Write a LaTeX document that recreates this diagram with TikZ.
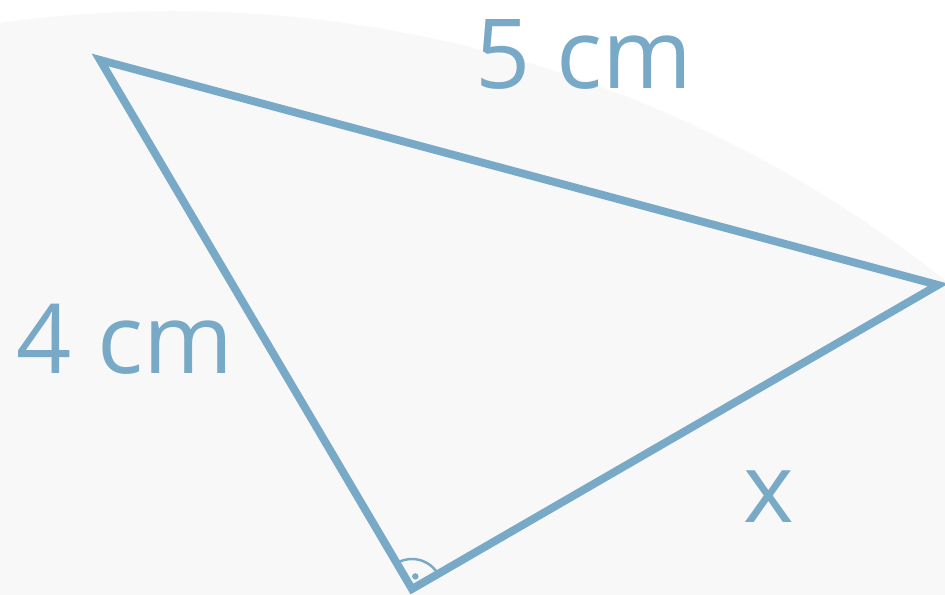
\documentclass[tikz,border=0pt]{standalone}
\usepackage{fontspec}
\setmainfont{Open Sans}
\usetikzlibrary{positioning}
\definecolor{sideblue}{HTML}{78A9C6}
\definecolor{paper}{HTML}{F8F8F8}

\begin{document}
\begin{tikzpicture}[
		side/.style={draw=sideblue, line width=4.5pt, miter limit=20},
		len/.style={text=sideblue, inner sep=0pt, font=\fontsize{55}{60}\selectfont}
	]

		\useasboundingbox (0,0) rectangle (18.9,11.9);
		\begin{scope}
			\clip (0,0) rectangle (18.9,11.9);
			\fill[paper] (3.44,-13.20) circle (24.88);
		\end{scope}

		\coordinate (a) at (2.00,10.70);
		\coordinate (b) at (18.76,6.20);
		\coordinate (c) at (8.24,0.12);

		\draw[side] (a) -- (b) -- (c) -- cycle;

		% right angle at c
		\draw[sideblue, line width=1.4pt] ([shift={(30.1:0.6)}]c) arc[start angle=30.1, end angle=120.5, radius=0.6];
		\fill[sideblue] ([shift={(75.3:0.26)}]c) circle (0.065);

		\node[len] (ab) at (11.68,10.82) {5 cm};
		\node[len] (ac) at (2.50,5.12) {4 cm};
		\node[len] (bc) at (15.38,1.96) {x};
		\end{tikzpicture}
\end{document}
